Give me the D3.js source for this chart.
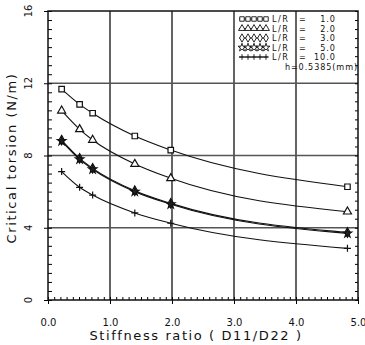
<!DOCTYPE html>
<html>
<head>
<meta charset="utf-8">
<script src="https://cdn.jsdelivr.net/npm/d3@7"></script>
<style>
  body { margin: 0; background: #fff; }
  text { font-family: "DejaVu Sans", sans-serif; fill: #111; }
</style>
</head>
<body>
<div id="chart"></div>
<script>
// data
let stiffness = [0.22, 0.51, 0.72, 1.40, 1.98, 4.83];
let lr1 = [11.67, 10.83, 10.34, 9.08, 8.30, 6.27];
let lr2 = [10.48, 9.45, 8.86, 7.53, 6.74, 4.89];
let lr3 = [8.85, 7.84, 7.29, 6.05, 5.35, 3.74];
let lr5 = [8.80, 7.79, 7.24, 6.00, 5.30, 3.69];
let lr10 = [7.11, 6.24, 5.81, 4.82, 4.25, 2.86];
let seriesNames = ["1.0", "2.0", "3.0", "5.0", "10.0"];
let xTicks = [0, 1, 2, 3, 4, 5];
let yTicks = [0, 4, 8, 12, 16];

let width = 365, height = 345;
let svg = d3.select("#chart").append("svg")
    .attr("width", width)
    .attr("height", height);

let x = d3.scaleLinear().domain([0, 5]).range([48, 358]);
let y = d3.scaleLinear().domain([0, 16]).range([300, 11]);

let series = [lr1, lr2, lr3, lr5, lr10];
let symbolTypes = [d3.symbolSquare, d3.symbolTriangle, d3.symbolDiamond, d3.symbolStar];

// marker shapes
let shapes = [
    d3.symbol(d3.symbolSquare, 30)(),
    d3.symbol(d3.symbolTriangle, 28)(),
    d3.symbol(d3.symbolDiamond, 26)(),
    d3.symbol(d3.symbolStar, 22)(),
    "M-3.5,0H3.5M0,-3.5V3.5"
];

// grid
svg.append("g").selectAll("line")
    .data([1, 2, 3, 4])
    .enter().append("line")
    .attr("x1", d => x(d)).attr("x2", d => x(d))
    .attr("y1", y(0)).attr("y2", y(16))
    .attr("stroke", "#111").attr("stroke-width", 1.3);

svg.append("g").selectAll("line")
    .data([4, 8, 12])
    .enter().append("line")
    .attr("x1", x(0)).attr("x2", x(5))
    .attr("y1", d => y(d)).attr("y2", d => y(d))
    .attr("stroke", "#555").attr("stroke-width", 1.6);

// minor ticks
svg.append("g")
    .attr("transform", "translate(0," + y(0) + ")")
    .call(d3.axisBottom(x).ticks(50).tickSize(-3).tickFormat(""))
    .call(g => g.select(".domain").remove());
svg.append("g")
    .attr("transform", "translate(" + x(0) + ",0)")
    .call(d3.axisLeft(y).ticks(32).tickSize(-4).tickFormat(""))
    .call(g => g.select(".domain").remove());
svg.append("g")
    .attr("transform", "translate(" + x(5) + ",0)")
    .call(d3.axisRight(y).ticks(32).tickSize(-3).tickFormat(""))
    .call(g => g.select(".domain").remove());

// major ticks with labels
svg.append("g")
    .attr("transform", "translate(0," + y(0) + ")")
    .call(d3.axisBottom(x).tickValues(xTicks).tickSize(4).tickPadding(15)
        .tickFormat(d3.format(".1f")))
    .call(g => g.select(".domain").remove())
    .call(g => g.selectAll("text").attr("font-size", 10).attr("fill", "#111"));

svg.append("g")
    .attr("transform", "translate(" + x(0) + ",0)")
    .call(d3.axisLeft(y).tickValues(yTicks).tickSize(4).tickFormat(""))
    .call(g => g.select(".domain").remove());

svg.append("g").selectAll("text")
    .data(yTicks)
    .enter().append("text")
    .attr("transform", d => "translate(32," + y(d) + ") rotate(-90)")
    .attr("text-anchor", "middle")
    .attr("font-size", 10)
    .text(d => d);

// frame
svg.append("rect")
    .attr("x", x(0)).attr("y", y(16))
    .attr("width", x(5) - x(0)).attr("height", y(0) - y(16))
    .attr("fill", "none").attr("stroke", "#111").attr("stroke-width", 1.5);

// curves
let line = d3.line()
    .x((d, i) => x(stiffness[i]))
    .y(d => y(d))
    .curve(d3.curveMonotoneX);

series.forEach((s, k) => {
    svg.append("path")
        .datum(s)
        .attr("d", line)
        .attr("fill", "none")
        .attr("stroke", "#111")
        .attr("stroke-width", 1.1);
    svg.append("g").selectAll("path")
        .data(s)
        .enter().append("path")
        .attr("transform", (d, i) => "translate(" + x(stiffness[i]) + "," + y(d) + ")")
        .attr("d", shapes[k])
        .attr("fill", k == 3 ? "#222" : "#fff")
        .attr("stroke", "#111")
        .attr("stroke-width", 1.2);
});

// legend
let legendY = [19, 28.5, 38, 47.5, 57];
let legend = svg.append("g");
seriesNames.forEach((name, k) => {
    let ly = legendY[k];
    legend.append("line")
        .attr("x1", 239).attr("x2", 268)
        .attr("y1", ly).attr("y2", ly)
        .attr("stroke", "#111").attr("stroke-width", 1);
    legend.append("g").selectAll("path")
        .data(d3.range(5))
        .enter().append("path")
        .attr("transform", i => "translate(" + (242 + i * 6) + "," + ly + ")")
        .attr("d", k == 4 ? "M-2.8,0H2.8M0,-2.8V2.8" : d3.symbol(symbolTypes[k], 20)())
        .attr("fill", "#fff")
        .attr("stroke", "#111")
        .attr("stroke-width", 0.9);
    legend.append("text")
        .attr("x", 272).attr("y", ly + 3)
        .attr("font-size", 8.1)
        .attr("letter-spacing", 1.5)
        .text("L/R");
    legend.append("text")
        .attr("x", 299).attr("y", ly + 3)
        .attr("font-size", 8.1)
        .text("=");
    legend.append("text")
        .attr("x", 336).attr("y", ly + 3)
        .attr("text-anchor", "end")
        .attr("font-size", 8.1)
        .attr("letter-spacing", 1)
        .text(name);
});
legend.append("text")
    .attr("x", 358).attr("y", 69.5)
    .attr("text-anchor", "end")
    .attr("font-size", 8.1)
    .attr("letter-spacing", 0.9)
    .text("h=0.5385(mm)");

// axis titles
svg.append("text")
    .attr("x", 196).attr("y", 340)
    .attr("text-anchor", "middle")
    .attr("font-size", 13)
    .attr("letter-spacing", 1.6)
    .text("Stiffness ratio  ( D11/D22 )");

svg.append("text")
    .attr("transform", "translate(16,158) rotate(-90)")
    .attr("text-anchor", "middle")
    .attr("font-size", 13)
    .attr("letter-spacing", 1.6)
    .text("Critical torsion  (N/m)");
</script>
</body>
</html>
